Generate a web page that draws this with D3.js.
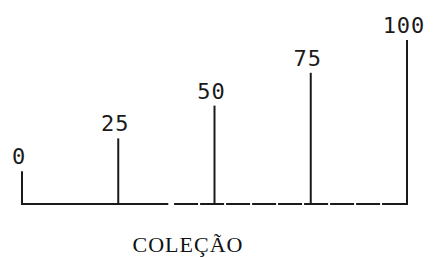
<!DOCTYPE html>
<html>
<head>
<meta charset="utf-8">
<script src="https://cdn.jsdelivr.net/npm/d3@7"></script>
<style>
  body { margin: 0; background: #fff; }
  .lbl { font-family: "DejaVu Sans Mono", monospace; font-size: 22px; fill: #1a1a1a; letter-spacing: 1px; }
  .title { font-family: "Liberation Serif", serif; font-size: 22px; fill: #111; letter-spacing: 1px; }
</style>
</head>
<body>
<div id="chart"></div>
<script>
const values = [0, 25, 50, 75, 100];
const labels = ["0", "25", "50", "75", "100"];
const title = "COLEÇÃO";

const width = 434;
const height = 258;
const base = 204;

const x = d3.scaleLinear().domain([0, 100]).range([22, 407]);
const y = d3.scaleLinear().domain([-25, 100]).range([base, 40]);

const svg = d3.select("#chart")
  .append("svg")
  .attr("width", width)
  .attr("height", height);

// baseline: solid on the left, broken on the right like the scan
svg.append("line")
  .attr("x1", x(0)).attr("x2", x(38))
  .attr("y1", base).attr("y2", base)
  .attr("stroke", "#1a1a1a").attr("stroke-width", 2);
svg.append("line")
  .attr("x1", x(39.5)).attr("x2", x(100))
  .attr("y1", base).attr("y2", base)
  .attr("stroke", "#1a1a1a").attr("stroke-width", 2)
  .attr("stroke-dasharray", "24,2");

svg.selectAll("line.bar")
  .data(values)
  .enter()
  .append("line")
  .attr("class", "bar")
  .attr("x1", d => x(d)).attr("x2", d => x(d))
  .attr("y1", base + 1)
  .attr("y2", d => y(d))
  .attr("stroke", "#1a1a1a")
  .attr("stroke-width", 2);

svg.selectAll("text.lbl")
  .data(values)
  .enter()
  .append("text")
  .attr("class", "lbl")
  .attr("text-anchor", "middle")
  .attr("x", d => x(d) - 3)
  .attr("y", d => y(d) - 7)
  .text((d, i) => labels[i]);

svg.append("text")
  .attr("class", "title")
  .attr("text-anchor", "middle")
  .attr("x", 188)
  .attr("y", 252)
  .text(title);
</script>
</body>
</html>
